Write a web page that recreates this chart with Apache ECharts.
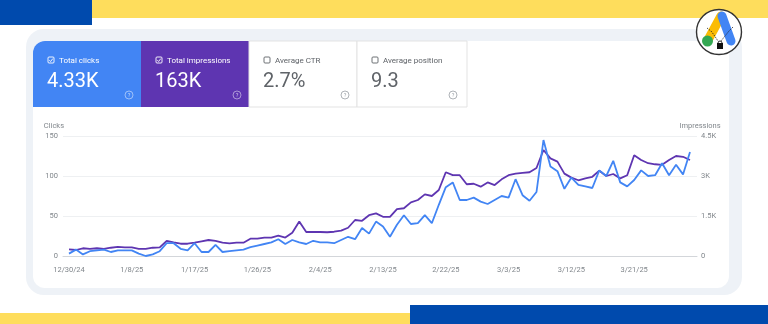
<!DOCTYPE html>
<html><head><meta charset="utf-8">
<script src="https://cdn.jsdelivr.net/npm/echarts@6/dist/echarts.min.js"></script>
<style>html,body{margin:0;padding:0;background:#fff}#c{width:768px;height:324px}</style>
</head><body><div id="c"></div>
<script>
// ---- data ----
const startDate = [2024, 11, 30]; // 12/30/24
const dayCount = 90;
const clicks = [3,8,2,6,7,8,5,7,7,7, 3,0,2,6,16,16,9,7,16,5, 5,14,5,6,7,8,11,13,15,17,
  21,15,20,17,15,19,17,17,16,20, 24,21,35,28,43,37,24,39,51,40, 41,51,41,64,86,92,70,70,73,68,
  65,70,75,73,96,76,69,80,145,112, 106,84,98,89,87,85,107,100,119,92, 87,95,107,100,101,116,101,114,102,130];
const impressions = [250,225,290,270,290,270,310,340,325,325, 270,265,310,325,565,510,460,460,500,550,
  600,565,500,475,500,500,650,650,690,690, 760,690,870,1290,900,900,900,890,910,950,
  1060,1350,1320,1530,1600,1470,1470,1760,1790,2010, 2100,2310,2250,2475,3140,3030,3030,2690,2710,2600,
  2760,2660,2875,3030,3090,3120,3140,3300,3975,3660, 3540,3090,2940,2840,2910,2970,3200,3000,3075,2910,
  3030,3780,3600,3480,3440,3420,3600,3750,3720,3600];
const clickTicks = [0, 50, 100, 150];
const impressionTicks = ['0', '1.5K', '3K', '4.5K'];
const cardLabels = ['Total clicks', 'Total impressions', 'Average CTR', 'Average position'];
const cardValues = ['4.33K', '163K', '2.7%', '9.3'];
const cardSelected = [true, true, false, false];

const dates = [];
for (let i = 0; i < dayCount; i++) {
  const d = new Date(startDate[0], startDate[1], startDate[2] + i);
  dates.push((d.getMonth() + 1) + '/' + d.getDate() + '/' + String(d.getFullYear()).slice(2));
}

const FONT = 'Roboto, "Noto Sans", sans-serif';
const BLUE = '#4285f4', PURPLE = '#5e35b1';
const g = [];
// decorative background
g.push({type:'rect', z:-10, shape:{x:92,y:0,width:676,height:18}, style:{fill:'#fedd5c'}});
g.push({type:'rect', z:-10, shape:{x:0,y:0,width:92,height:25}, style:{fill:'#004aad'}});
g.push({type:'rect', z:-10, shape:{x:0,y:313,width:410,height:11}, style:{fill:'#fedd5c'}});
g.push({type:'rect', z:-10, shape:{x:410,y:305,width:358,height:19}, style:{fill:'#004aad'}});
g.push({type:'rect', z:-9, shape:{x:26,y:29,width:716,height:266,r:18}, style:{fill:'#eef2f7'}});
g.push({type:'rect', z:-8, shape:{x:33,y:41,width:696,height:247,r:[12,0,12,12]}, style:{fill:'#ffffff'}});

// KPI cards
const cardX = [33, 141, 249, 357], cardW = [108, 108, 108, 110];
const cardFill = [BLUE, PURPLE, '#ffffff', '#ffffff'];
for (let i = 0; i < 4; i++) {
  const x = cardX[i], sel = cardSelected[i];
  const fg = sel ? '#ffffff' : '#5f6368';
  g.push({type:'rect', z:-7, shape:{x:x, y:41, width:cardW[i], height:66, r: i === 0 ? [12,0,0,0] : 0},
    style:{fill:cardFill[i], stroke: sel ? null : '#e3e3e3', lineWidth: sel ? 0 : 1}});
  g.push({type:'rect', z:-6, shape:{x:x+15, y:57, width:6, height:6, r:1}, style:{fill:'none', stroke:fg, lineWidth:0.9}});
  if (sel) g.push({type:'polyline', z:-6, shape:{points:[[x+16.3,60.2],[x+17.6,61.5],[x+19.8,58.6]]}, style:{stroke:fg, lineWidth:0.9, fill:null}});
  g.push({type:'text', z:-6, x:x+26, y:60.5, style:{text:cardLabels[i], fill:fg, fontSize:8, fontFamily:FONT, verticalAlign:'middle'}});
  g.push({type:'text', z:-6, x:x+14, y:82, style:{text:cardValues[i], fill: sel ? '#ffffff' : '#5f6368', fontSize:20, fontFamily:FONT, verticalAlign:'middle'}});
  g.push({type:'circle', z:-6, shape:{cx:x+96, cy:95, r:4}, style:{fill:'none', stroke: sel ? 'rgba(255,255,255,0.6)' : '#9aa0a6', lineWidth:0.8}});
  g.push({type:'text', z:-6, x:x+96, y:95.3, style:{text:'?', fill: sel ? 'rgba(255,255,255,0.7)' : '#9aa0a6', fontSize:5.5, fontFamily:FONT, align:'center', verticalAlign:'middle'}});
}

// logo
g.push({type:'circle', z:5, shape:{cx:719, cy:32, r:22.5}, style:{fill:'#ffffff', stroke:'#333', lineWidth:1.4}});
g.push({type:'polyline', z:6, shape:{points:[[721,16],[708,40]]}, style:{stroke:'#fbbc04', lineWidth:9, lineCap:'round', fill:null}});
g.push({type:'polyline', z:7, shape:{points:[[722,16],[731,41]]}, style:{stroke:'#4285f4', lineWidth:9, lineCap:'round', fill:null}});
g.push({type:'circle', z:7, shape:{cx:707.5, cy:41, r:5.5}, style:{fill:'#34a853'}});
g.push({type:'polyline', z:8, shape:{points:[[707,28],[711,31],[714,35],[718,41]]}, style:{stroke:'#222', lineWidth:0.8, lineDash:[1.5,1], fill:null}});
g.push({type:'polyline', z:8, shape:{points:[[733,27],[729,31],[725,36],[721,41]]}, style:{stroke:'#222', lineWidth:0.8, lineDash:[1.5,1], fill:null}});
g.push({type:'rect', z:8, shape:{x:717, y:43, width:6, height:6}, style:{fill:'#111'}});
g.push({type:'arc', z:8, shape:{cx:720, cy:43, r:2, startAngle:Math.PI, endAngle:2*Math.PI}, style:{stroke:'#111', lineWidth:0.9, fill:null}});

const chart = echarts.init(document.getElementById('c'), null, {renderer:'canvas'});
const labelStyle = {fontSize:7.5, color:'#80868b', fontFamily:FONT};
chart.setOption({
  animation:false,
  textStyle:{fontFamily:FONT},
  graphic:{elements:g},
  grid:[{left:63, right:71, top:136, bottom:68}, {left:69, right:78, top:136, bottom:68}],
  xAxis:[
    {gridIndex:0, type:'category', data:dates, boundaryGap:false, axisLine:{show:true, lineStyle:{color:'#d3d6da', width:1}}, axisTick:{show:false}, axisLabel:{show:false}, splitLine:{show:false}},
    {gridIndex:1, type:'category', data:dates, boundaryGap:false, axisLine:{show:false}, axisTick:{show:false},
      axisLabel:Object.assign({interval:8, margin:10}, labelStyle), splitLine:{show:false}}
  ],
  yAxis:[
    {gridIndex:0, type:'value', min:clickTicks[0], max:clickTicks[3], interval:clickTicks[1]-clickTicks[0], position:'left',
      name:'Clicks', nameLocation:'end', nameGap:10, nameTextStyle:Object.assign({align:'right', verticalAlign:'middle', padding:[0,-1,0,0]}, labelStyle),
      axisLine:{show:false}, axisTick:{show:false}, axisLabel:Object.assign({margin:5}, labelStyle),
      splitLine:{lineStyle:{color:'#eef0f2', width:1}}},
    {gridIndex:0, type:'value', min:0, max:4500, interval:1500, position:'right',
      name:'Impressions', nameLocation:'end', nameGap:10, nameTextStyle:Object.assign({align:'center', verticalAlign:'middle', padding:[0,0,0,6]}, labelStyle),
      axisLine:{show:false}, axisTick:{show:false},
      axisLabel:Object.assign({margin:4, formatter:(v)=>impressionTicks[Math.round(v/1500)]}, labelStyle), splitLine:{show:false}},
    {gridIndex:1, type:'value', min:0, max:150, interval:50, show:false, splitLine:{show:false}},
    {gridIndex:1, type:'value', min:0, max:4500, interval:1500, show:false, splitLine:{show:false}}
  ],
  series:[
    {name:'Impressions', type:'line', xAxisIndex:1, yAxisIndex:3, data:impressions, symbol:'none',
      lineStyle:{color:PURPLE, width:1.8}, itemStyle:{color:PURPLE}, z:3},
    {name:'Clicks', type:'line', xAxisIndex:1, yAxisIndex:2, data:clicks, symbol:'none',
      lineStyle:{color:BLUE, width:1.8}, itemStyle:{color:BLUE}, z:4}
  ]
});
</script></body></html>
